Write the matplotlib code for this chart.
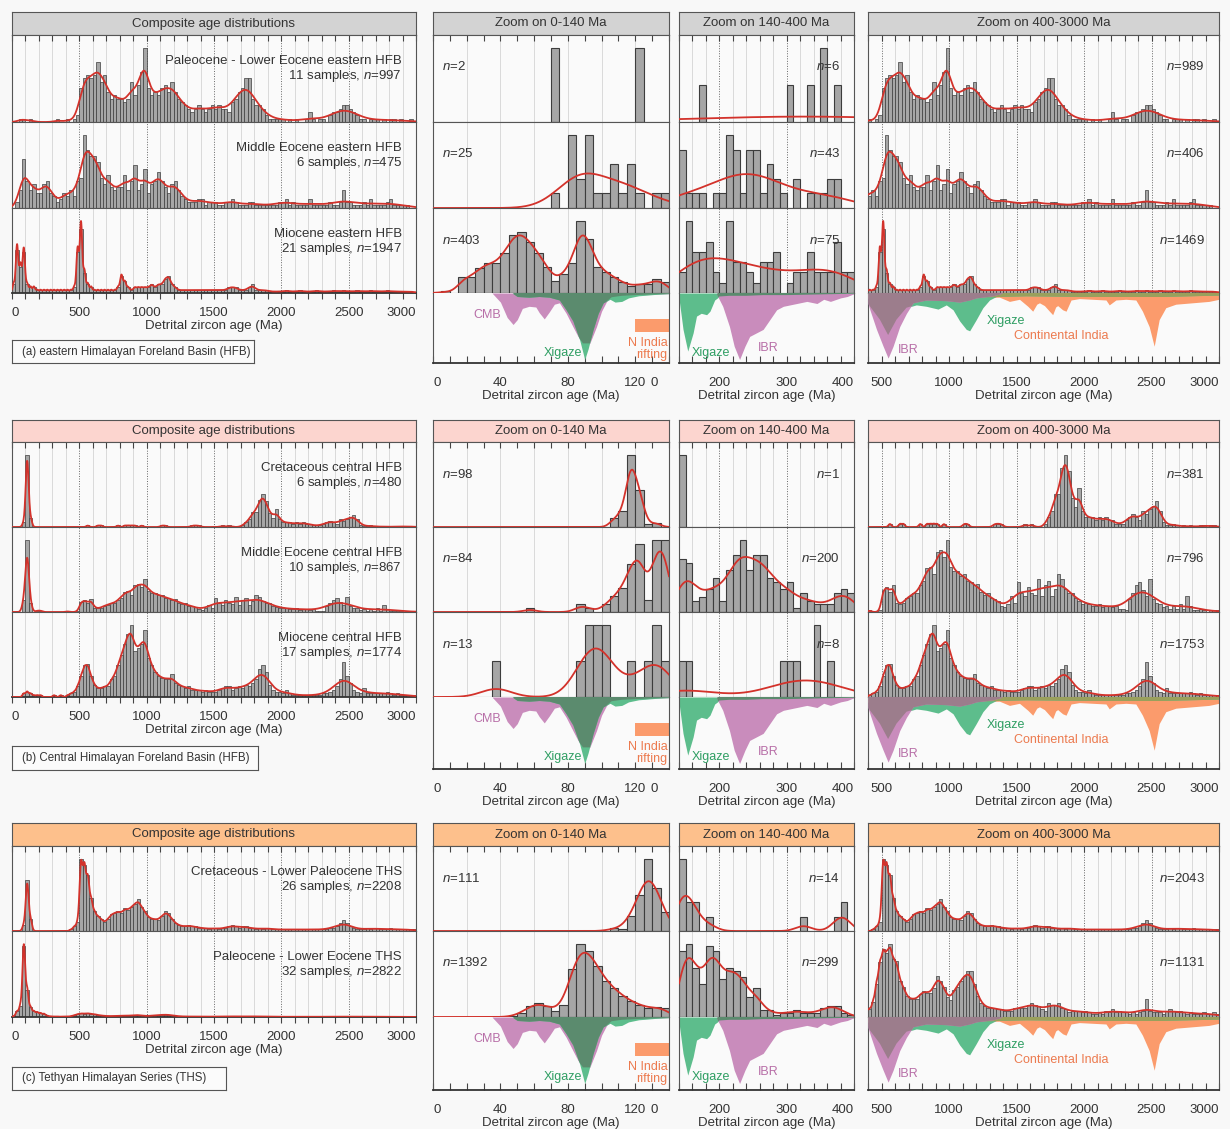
import numpy as np
import matplotlib
matplotlib.use('Agg')
import matplotlib.pyplot as plt
from matplotlib.patches import Rectangle

plt.rcParams['font.family'] = ['Liberation Sans', 'DejaVu Sans']
plt.rcParams['mathtext.fontset'] = 'custom'
plt.rcParams['mathtext.rm'] = 'Liberation Sans'
plt.rcParams['mathtext.it'] = 'Liberation Sans:italic'

# ---- composite age spectra, 25 Ma bins from 0 to 3000 Ma ----
old_edges = np.arange(0, 3001, 25)

pal_east = [
    0, 0, 1, 1, 0, 1, 0, 0, 0, 0, 0, 0, 0, 1, 0, 0, 1, 0, 1, 2,
    10, 13, 14, 13, 14, 18, 12, 14, 9, 7, 8, 7, 7, 6, 7, 12, 8, 11, 15, 22,
    10, 8, 9, 8, 10, 11, 9, 12, 9, 7, 6, 5, 4, 3, 4, 5, 4, 3, 4, 5,
    4, 5, 4, 4, 3, 6, 7, 9, 10, 13, 13, 7, 5, 5, 4, 2, 1, 1, 1, 1,
    1, 0, 1, 0, 1, 0, 0, 1, 3, 1, 0, 1, 1, 0, 2, 3, 3, 4, 5, 5,
    4, 3, 2, 1, 1, 0, 1, 1, 1, 0, 1, 0, 1, 1, 0, 1, 0, 0, 1, 0,
]
meo_east = [
    0, 2, 6, 16, 9, 6, 8, 5, 5, 8, 9, 5, 4, 2, 3, 5, 4, 6, 4, 9,
    10, 24, 19, 17, 17, 15, 10, 8, 11, 7, 6, 7, 7, 11, 6, 9, 14, 6, 8, 13,
    5, 8, 9, 12, 9, 7, 5, 8, 9, 6, 4, 3, 2, 2, 2, 3, 3, 1, 2, 2,
    2, 1, 1, 2, 2, 3, 2, 1, 1, 1, 2, 2, 1, 1, 1, 1, 1, 1, 1, 2,
    2, 3, 1, 2, 1, 1, 1, 1, 3, 1, 1, 1, 1, 1, 2, 1, 1, 2, 6, 2,
    2, 1, 1, 1, 2, 1, 3, 1, 1, 1, 1, 2, 3, 1, 1, 1, 1, 1, 0, 0,
]
mio_east = [
    3, 15, 9, 14, 3, 2, 2, 1, 1, 1, 1, 1, 1, 1, 1, 1, 1, 1, 2, 14,
    22, 7, 3, 2, 1, 1, 1, 1, 1, 1, 1, 2, 6, 4, 2, 1, 2, 2, 2, 2,
    2, 3, 2, 3, 3, 5, 6, 3, 2, 1, 1, 1, 1, 1, 1, 1, 1, 1, 1, 1,
    1, 1, 1, 1, 2, 2, 2, 1, 1, 1, 2, 3, 1, 1, 1, 1, .5, .5, .5, .5,
    .5, 1, .5, .5, .5, 1, .5, .5, .5, .5, 1, .5, .5, .5, .5, 1, .5, .5, 1, .5,
    .5, .5, 1, .5, .5, .5, 1, .5, .5, .5, .5, 1, .5, .5, .5, .5, .5, .5, .5, .5,
]
cre_cent = [
    0, 0, 0, 3, 48, 6, 0, 0, 0, 0, 0, 0, 0, 0, 0, 0, 0, 0, 0, 0,
    0, 0, 1, 0, 0, 1, 1, 0, 0, 0, 0, 1, 0, 1, 1, 1, 1, 0, 1, 0,
    0, 0, 0, 0, 1, 1, 0, 0, 0, 0, 0, 0, 0, 1, 1, 1, 0, 0, 0, 0,
    0, 0, 1, 0, 1, 0, 0, 0, 1, 3, 5, 10, 10, 18, 22, 17, 9, 6, 12, 5,
    3, 3, 3, 2, 3, 2, 3, 2, 2, 1, 1, 1, 2, 3, 4, 3, 2, 5, 4, 5.5,
    6.5, 8, 5, 1.5, .5, .5, 1, .5, 0, .5, 0, .5, 0, 0, .5, .5, 0, .5, .5, 0,
]
meo_cent = [
    0, 0, 0, 8, 50, 6, 0, 1, 1, 0, 0, 0, 0, 0, 0, 0, .5, 0, 0, .5,
    7, 8, 6.5, 8.7, 3, 2.5, 3, 4.5, 5, 6, 6, 8.5, 10, 14, 14.5, 12, 19, 19.7, 17.5, 23,
    14.5, 13, 13, 11.5, 12, 10, 9.5, 8.5, 9, 6.5, 5.5, 6, 4.5, 4, 3.5, 2, 1.5, 2.5, 5, 3,
    9.5, 6, 5, 8, 6, 5.5, 10.5, 5, 8.5, 10, 5, 7.5, 12, 10.5, 7.5, 6, 6, 4.5, 3.5, 2.5,
    3, 2.5, 2, 2, 2.5, 1.5, 2, 2, 1.5, 2, 1, 1, .7, 4, 6, 8.5, 9.5, 7, 5, 10.5,
    4, 3, 2.5, 1.5, 2, 1, 2, 1, 2.5, 1, 5, 2, .7, .5, 1, .5, 0, .5, .5, .5,
]
mio_cent = [
    0, 0, 0, 1, 1.5, 1, .5, .5, .5, 0, 0, 0, .5, 0, .5, 0, .5, 1, 1.5, 3,
    6, 9, 9.5, 6, 3.5, 2.5, 2.5, 3, 3, 5, 6, 9, 12, 15, 18, 20.5, 13, 14, 15, 19,
    11, 9, 7, 6, 5.5, 5, 5, 6.5, 4, 3.5, 3, 2.5, 3, 2, 2, 2, 1.5, 2, 1.5, 1.5,
    1.5, 2, 2.5, 3, 3, 2, 2.5, 3, 2.5, 3.5, 3, 4, 5, 8, 9, 7, 3.5, 2, 1.5, 1.5,
    1, 2, 1, .5, .5, .5, .5, .5, .5, .5, .5, .5, 1, 1, 1.5, 2, 3, 5, 10, 6,
    4, 2, 1.5, 1, 2.5, 1, 1, 1, 1, 1, 1, 1.5, 1, .5, 1, .5, .5, .5, .5, .5,
]
cre_ths = [
    0, 0, 0, 2, 17, 4, 0, 0, 0, 0, 0, 0, 0, 0, 0, 0, 0, .5, 1.5, 3,
    24, 22, 18.5, 11, 6.5, 5, 4, 3, 4, 5.5, 6, 6.5, 6, 7.5, 7, 8, 9, 10.5, 8, 6.5,
    4.5, 4, 4, 3.5, 5, 6.5, 6, 4, 2.5, 2, 1.5, 1.5, 2, 1.5, 1.5, 1, 1, 1, .5, 1,
    1, .5, 1, 1, 1.5, 2, 1.5, 1, 1.5, 1.5, 1, 1, .5, 1, .5, 1, 1, .5, .5, .5,
    .5, .5, .5, .5, .5, .5, .5, .5, .5, .5, .5, .5, .5, .5, 1, 1, 1.5, 2.5, 3.5, 2.5,
    1.5, 1, .5, .5, .5, 1, .5, 1, 1, .5, .5, .5, 1, .5, .5, .5, .5, .5, .5, .5,
]
pal_ths = [
    5, 35, 70, 450, 170, 60, 36, 30, 24, 20, 8, 4, 3, 3, 2, 3, 2.5, 5, 11, 18,
    22.5, 21, 24, 19, 18.5, 12, 10, 7, 6, 6, 6, 7.5, 8.5, 8, 8, 9.5, 13.5, 12, 10, 6.5,
    5.5, 9, 10, 12, 13.5, 15, 15, 11, 7, 4.5, 3.5, 3, 3, 3, 2.5, 2.5, 2, 2, 2, 3,
    3, 3, 3, 4, 4.5, 4, 3.5, 2.5, 2, 4.5, 4, 4, 4.5, 3, 2.5, 1.5, 2, 2, 2, 1.5,
    2, 1.5, 1, 1, 1.5, 1, 2, 1.5, 2.5, 1.5, 2, 1.5, 1.5, 1, 1.5, 1, 1.5, 2, 6, 2,
    1.5, 1.5, 1.5, 1, 2, 2.5, 2, 1.5, 2, 1.5, 1, 1.5, 1, 1, 1, 1.5, 1, 1, 1.5, 1,
]

# ---- 0-140 Ma, 5 Ma bins (counts) ----
young_edges = np.arange(0, 141, 5)
young_a1 = [0, 0, 0, 0, 0, 0, 0, 0, 0, 0, 0, 0, 0, 0, 1, 0, 0, 0, 0, 0, 0, 0, 0, 0, 1, 0, 0, 0]
young_a2 = [0, 0, 0, 0, 0, 0, 0, 0, 0, 0, 0, 0, 0, 0, 1, 0, 5, 2, 5, 1, 1, 3, 1, 3, 1, 0, 1, 1]
young_a3 = [0, 1, 0, 9, 9, 14, 17, 17, 23, 33, 35, 29, 23, 15, 7, 11, 17, 41, 31, 15,
            12, 9, 6, 4, 5, 5, 8, 6]
young_b1 = [0, 0, 0, 0, 0, 0, 0, 0, 0, 0, 0, 0, 0, 0, 0, 0, 0, 0, 0, 0, 0, 6, 11, 50, 26, 2, 3, 0]
young_b2 = [0, 0, 0, 0, 0, 0, 0, 0, 0, 0, 0, 1, 0, 0, 0, 0, 0, 2, 1, 0, 2, 4, 6, 12, 17, 3, 18, 18]
young_b3 = [0, 0, 0, 0, 0, 0, 0, 1, 0, 0, 0, 0, 0, 0, 0, 0, 0, 1, 2, 2, 2, 0, 0, 1, 0, 1, 2, 1]
young_c1 = [0, 0, 0, 0, 0, 0, 0, 0, 0, 0, 0, 0, 0, 0, 0, 0, 0, 0, 0, 0, 0, 2, 1, 9, 21, 42, 25, 11]
young_c2 = [0, 0, 0, 0, 0, 0, 0, 0, 0, 3, 13, 36, 45, 34, 20, 39, 151, 230, 209, 162,
            114, 90, 67, 50, 39, 28, 31, 28]

# ---- 140-400 Ma, 10 Ma bins (counts) ----
mid_edges = np.arange(140, 401, 10)
mid_a1 = [0, 0, 0, 1, 0, 0, 0, 0, 0, 0, 0, 0, 0, 0, 0, 0, 1, 0, 0, 1, 0, 2, 0, 1, 0, 0]
mid_a2 = [4, 1, 1, 1, 0, 1, 1, 5, 4, 1, 4, 4, 1, 3, 2, 1, 0, 2, 0, 1, 1, 1, 2, 2, 0, 0]
mid_a3 = [2, 7, 4, 4, 5, 2, 1, 7, 3, 3, 2, 1, 3, 3, 4, 0, 1, 2, 2, 4, 2, 2, 2, 5, 2, 2]
mid_b1 = [1, 0, 0, 0, 0, 0, 0, 0, 0, 0, 0, 0, 0, 0, 0, 0, 0, 0, 0, 0, 0, 0, 0, 0, 0, 0]
mid_b2 = [14, 13, 3, 4, 6, 9, 3, 11, 15, 19, 11, 15, 15, 9, 8, 6, 8, 1, 5, 3, 2, 2, 2, 5, 6, 5]
mid_b3 = [1, 1, 0, 0, 0, 0, 0, 0, 0, 0, 0, 0, 0, 0, 0, 1, 1, 1, 0, 0, 2, 0, 1, 0, 0, 0]
mid_c1 = [5, 2, 2, 0, 1, 0, 0, 0, 0, 0, 0, 0, 0, 0, 0, 0, 0, 0, 1, 0, 0, 0, 0, 1, 2, 0]
mid_c2 = [30, 33, 22, 15, 32, 30, 17, 22, 21, 18, 9, 13, 3, 3, 1, 2, 2, 3, 2, 2, 2, 4, 5, 5, 2, 1]

# ---- reference source populations (depth below baseline) ----
cmb_age = [35, 40, 44, 47.5, 50, 53, 57, 61, 63, 66, 69, 72, 75, 79, 83, 86, 89, 93, 97,
           100, 103, 106, 112, 120, 130, 140]
cmb_depth = [0, .13, .35, .45, .38, .22, .19, .2, .28, .37, .27, .16, .14, .29, .48, .62, .72,
             .72, .48, .26, .12, .06, .04, .03, .02, .01]
xig_young_age = [47, 50, 57, 63, 69, 75, 79, 83, 87, 90, 92, 95, 98, 101, 105, 108, 112, 116,
                 122, 132, 140]
xig_young_depth = [0, .05, .06, .05, .06, .1, .24, .4, .67, .95, .8, .52, .29, .14, .09, .13,
                   .12, .07, .04, .02, .01]
xig_mid_age = [140, 146, 153, 161, 166, 173, 181, 186, 193, 200, 215, 240, 265, 300, 350, 400]
xig_mid_depth = [.08, .52, .83, .57, .33, .29, .31, .26, .1, .05, .04, .04, .03, .03, .02, .01]
ibr_mid_age = [196, 205, 215, 222, 230, 238, 245, 255, 265, 275, 285, 295, 305, 315, 330,
               345, 355, 365, 380, 390, 400]
ibr_mid_depth = [.02, .19, .48, .76, .95, .76, .62, .57, .52, .38, .24, .19, .17, .15, .12,
                 .15, .09, .12, .07, .05, .01]
ibr_old_age = [400, 414, 463, 512, 549, 586, 635, 685, 734, 832, 980, 1079, 1153, 1202,
               1325, 1400]
ibr_old_depth = [.15, .24, .52, .76, .93, .76, .48, .29, .14, .1, .11, .13, .1, .07, .04, 0]
xig_old_age = [400, 414, 488, 549, 611, 685, 758, 832, 919, 980, 1030, 1079, 1128, 1153,
               1202, 1251, 1300, 1350, 1571, 2064, 2557, 3000]
xig_old_depth = [.12, .19, .38, .6, .38, .21, .17, .19, .23, .17, .24, .4, .52, .54, .38,
                 .21, .1, .05, .04, .05, .05, .03]
ci_old_age = [400, 586, 1000, 1374, 1448, 1522, 1584, 1620, 1650, 1670, 1707, 1744, 1768,
              1790, 1805, 1842, 1867, 1904, 1966, 2064, 2163, 2187, 2236, 2310, 2384, 2433,
              2483, 2520, 2557, 2606, 2680, 2803, 2926, 3000]
ci_old_depth = [.08, .1, .07, .06, .12, .09, .19, .26, .16, .14, .18, .26, .31, .2, .18, .24,
                .26, .1, .08, .09, .1, .17, .1, .09, .1, .26, .48, .76, .38, .21, .16, .14,
                .12, .09]

sections = [
    dict(tag='(a) eastern Himalayan Foreland Basin (HFB)', head_color='#d3d3d3',
         head=(12, 35), rows=(35, 122, 208, 293), ref_bottom=363, tag_box=(12, 340, 254, 363),
         series=[
             dict(old=pal_east, old_bw=(30, .03), young=young_a1, young_bw=None,
                  mid=mid_a1, mid_bw=150, name='Paleocene - Lower Eocene eastern HFB',
                  samples='11 samples', n=(997, 2, 6, 989)),
             dict(old=meo_east, old_bw=(30, .03), young=young_a2, young_bw=12,
                  mid=mid_a2, mid_bw=40, name='Middle Eocene eastern HFB',
                  samples='6 samples', n=(475, 25, 43, 406)),
             dict(old=mio_east, old_bw=(9, .012), young=young_a3, young_bw=4,
                  mid=mid_a3, mid_bw=35, name='Miocene eastern HFB',
                  samples='21 samples', n=(1947, 403, 75, 1469)),
         ]),
    dict(tag='(b) Central Himalayan Foreland Basin (HFB)', head_color='#fcd5cf',
         head=(420, 442), rows=(442, 527, 612, 697), ref_bottom=769, tag_box=(12, 746, 258, 770),
         series=[
             dict(old=cre_cent, old_bw=(11, .012), young=young_b1, young_bw=3,
                  mid=mid_b1, mid_bw=None, name='Cretaceous central HFB',
                  samples='6 samples', n=(480, 98, 1, 381)),
             dict(old=meo_cent, old_bw=(14, .03), young=young_b2, young_bw=4,
                  mid=mid_b2, mid_bw=14, name='Middle Eocene central HFB',
                  samples='10 samples', n=(867, 84, 200, 796)),
             dict(old=mio_cent, old_bw=(10, .025), young=young_b3, young_bw=9,
                  mid=mid_b3, mid_bw=45, name='Miocene central HFB',
                  samples='17 samples', n=(1774, 13, 8, 1753)),
         ]),
    dict(tag='(c) Tethyan Himalayan Series (THS)', head_color='#fdc08c',
         head=(823, 846), rows=(846, 931, 1017), ref_bottom=1090, tag_box=(12, 1067, 226, 1090),
         series=[
             dict(old=cre_ths, old_bw=(11, .02), young=young_c1, young_bw=5,
                  mid=mid_c1, mid_bw=12, name='Cretaceous - Lower Paleocene THS',
                  samples='26 samples', n=(2208, 111, 14, 2043)),
             dict(old=pal_ths, old_bw=(10, .025), young=young_c2, young_bw=4.5,
                  mid=mid_c2, mid_bw=10, name='Paleocene - Lower Eocene THS',
                  samples='32 samples', n=(2822, 1392, 299, 1131)),
         ]),
]

COLS = [
    dict(key='comp', x=(12, 416), lim=(0, 3000), title='Composite age distributions',
         top=np.arange(0, 3001, 100), major=list(range(0, 3001, 500)),
         labels=[str(v) for v in range(0, 3001, 500)], minor=np.arange(0, 3001, 100),
         light=[v for v in range(100, 3000, 100) if v % 500], dark=range(500, 3000, 500)),
    dict(key='young', x=(433, 669), lim=(0, 140), title='Zoom on 0-140 Ma',
         top=np.arange(0, 141, 10), major=[0, 40, 80, 120, 131.5],
         labels=['0', '40', '80', '120', '0'], minor=np.arange(0, 141, 10),
         light=range(20, 140, 20), dark=[]),
    dict(key='mid', x=(679, 854), lim=(140, 400), title='Zoom on 140-400 Ma',
         top=np.arange(140, 401, 20), major=[200, 300, 400], labels=['200', '300', '400'],
         minor=np.arange(140, 401, 20),
         light=[v for v in range(160, 400, 20) if v % 100], dark=[200, 300]),
    dict(key='old', x=(868, 1219), lim=(400, 3000), title='Zoom on 400-3000 Ma',
         top=np.arange(400, 3001, 100), major=list(range(500, 3001, 500)),
         labels=[str(v) for v in range(500, 3001, 500)], minor=np.arange(400, 3001, 100),
         light=[v for v in range(600, 3000, 100) if v % 500], dark=range(500, 3000, 500)),
]

TXT = '#333333'
EDGE = '#555555'
BG = '#f8f8f8'
PANEL = '#fafafa'
RED = '#d3322b'
MAG, MAG_T = '#c98cbc', '#b86fa8'
GRN, GRN_T = '#5dbd8c', '#2f9e63'
DKG = '#5b8b6e'
ORG, ORG_T = '#fb9b6c', '#ec7a4e'
OLIVE = '#9aa05c'
MAUVE = '#9c7d8c'

W, H = 1230, 1129
fig = plt.figure(figsize=(W / 100, H / 100), dpi=100)
fig.patch.set_facecolor(BG)


def box(x0, y0, x1, y1):
    ax = fig.add_axes([x0 / W, 1 - y1 / H, (x1 - x0) / W, (y1 - y0) / H])
    ax.set_facecolor(PANEL)
    ax.set_xticks([])
    ax.set_yticks([])
    for sp in ax.spines.values():
        sp.set_color(EDGE)
        sp.set_linewidth(0.8)
    return ax


def ftext(x, y, s, **kw):
    fig.text(x / W, 1 - y / H, s, **kw)


def kde(edges, heights, grid, bw_min, bw_frac=0.0):
    edges = np.asarray(edges, float)
    h = np.asarray(heights, float)
    c = 0.5 * (edges[:-1] + edges[1:])
    w = np.diff(edges)
    s = np.maximum(bw_min, bw_frac * c)
    z = (grid[:, None] - c[None, :]) / s[None, :]
    return (np.exp(-0.5 * z ** 2) / (np.sqrt(2 * np.pi) * s) * h * w).sum(axis=1)


def bottom_axis(ax, col):
    ax.set_xticks(col['major'], col['labels'])
    ax.set_xticks(col['minor'], minor=True)
    inward = col['key'] != 'comp'
    ax.tick_params(axis='x', which='both', bottom=True, direction='in' if inward else 'out',
                   length=5 if inward else 4, width=0.8, color='#444444',
                   pad=10 if inward else 6, labelsize=9.5, labelcolor=TXT)
    labels = ax.get_xticklabels()
    if col['key'] in ('comp', 'young'):
        labels[0].set_horizontalalignment('left')
    if col['key'] in ('comp', 'mid', 'old'):
        labels[-1].set_horizontalalignment('right')
    if col['key'] == 'young':
        ax.xaxis.get_major_ticks()[-1].tick1line.set_visible(False)
    ax.set_xlabel('Detrital zircon age (Ma)', fontsize=9.5, color=TXT, labelpad=1)
    ax.spines['bottom'].set_linewidth(1.3)
    ax.spines['bottom'].set_color('#333333')


def ref_young(ax):
    cm = ax.fill_between(cmb_age, 0, -np.asarray(cmb_depth), color=MAG, lw=0, zorder=1)
    xd = -np.asarray(xig_young_depth)
    ax.fill_between(xig_young_age, 0, xd, color=GRN, lw=0, zorder=2)
    ov = ax.fill_between(xig_young_age, 0, xd, color=DKG, lw=0, zorder=3)
    ov.set_clip_path(cm.get_paths()[0], ax.transData)
    ax.add_patch(Rectangle((120, -0.56), 20, 0.19, color=ORG, lw=0, zorder=2))
    ax.text(32, -0.31, 'CMB', color=MAG_T, fontsize=9, ha='center', va='center')
    ax.text(77, -0.86, 'Xigaze', color=GRN_T, fontsize=9, ha='center', va='center')
    ax.text(139, -0.8, 'N India\nrifting', color=ORG_T, fontsize=9, ha='right',
            va='center', linespacing=1.05)


def ref_mid(ax):
    xg = ax.fill_between(xig_mid_age, 0, -np.asarray(xig_mid_depth), color=GRN, lw=0, zorder=1)
    ib_d = -np.asarray(ibr_mid_depth)
    ax.fill_between(ibr_mid_age, 0, ib_d, color=MAG, lw=0, zorder=2)
    ov = ax.fill_between(ibr_mid_age, 0, ib_d, color=DKG, lw=0, zorder=3)
    ov.set_clip_path(xg.get_paths()[0], ax.transData)
    ax.text(188, -0.86, 'Xigaze', color=GRN_T, fontsize=9, ha='center', va='center')
    ax.text(272, -0.79, 'IBR', color=MAG_T, fontsize=9, ha='center', va='center')


def ref_old(ax):
    ci = ax.fill_between(ci_old_age, 0, -np.asarray(ci_old_depth), color=ORG, lw=0, zorder=1)
    xd = -np.asarray(xig_old_depth)
    xg = ax.fill_between(xig_old_age, 0, xd, color=GRN, lw=0, zorder=2)
    ov1 = ax.fill_between(xig_old_age, 0, xd, color=OLIVE, lw=0, zorder=3)
    ov1.set_clip_path(ci.get_paths()[0], ax.transData)
    ibd = -np.asarray(ibr_old_depth)
    ax.fill_between(ibr_old_age, 0, ibd, color=MAG, lw=0, zorder=4)
    ov2 = ax.fill_between(ibr_old_age, 0, ibd, color=MAUVE, lw=0, zorder=5)
    ov2.set_clip_path(xg.get_paths()[0], ax.transData)
    ax.text(697, -0.81, 'IBR', color=MAG_T, fontsize=9, ha='center', va='center')
    ax.text(1424, -0.4, 'Xigaze', color=GRN_T, fontsize=9, ha='center', va='center')
    ax.text(1831, -0.62, 'Continental India', color=ORG_T, fontsize=9, ha='center',
            va='center')


for sec in sections:
    ys = sec['rows']
    nrow = len(sec['series'])
    for col in COLS:
        x0, x1 = col['x']
        lo, hi = col['lim']
        key = col['key']

        hd = box(x0, sec['head'][0], x1, sec['head'][1])
        hd.set_facecolor(sec['head_color'])
        hd.text(0.5, 0.5, col['title'], transform=hd.transAxes, ha='center', va='center',
                fontsize=9.5, color=TXT)

        for i, row in enumerate(sec['series']):
            ax = box(x0, ys[i], x1, ys[i + 1])
            if key in ('comp', 'old'):
                edges, h = old_edges, np.asarray(row['old'], float)
                bw = row['old_bw']
            elif key == 'young':
                edges, h = young_edges, np.asarray(row['young'], float)
                bw = None if row['young_bw'] is None else (row['young_bw'], 0.0)
            else:
                edges, h = mid_edges, np.asarray(row['mid'], float)
                bw = None if row['mid_bw'] is None else (row['mid_bw'], 0.0)

            for v in col['light']:
                ax.axvline(v, color='#d4d4d4', lw=0.6, zorder=0)
            for v in col['dark']:
                ax.axvline(v, color='#666666', lw=0.7, ls=(0, (1, 1.6)), zorder=0)

            left = edges[:-1]
            width = np.diff(edges)
            keep = h > 0
            thin = key in ('comp', 'old')
            ax.bar(left[keep], h[keep], width=width[keep], align='edge',
                   color='#a6a6a6', edgecolor='#3c3c3c', lw=0.5 if thin else 0.8, zorder=2)

            vis = (left >= lo) & (left + width <= hi)
            top = h[vis].max()
            if bw is not None:
                grid = np.linspace(lo, hi, 1500)
                curve = kde(edges, h, grid, *bw)
                ax.plot(grid, curve, color=RED, lw=1.3, zorder=3)
                top = max(top, curve.max())
            ax.set_xlim(lo, hi)
            ax.set_ylim(0, top * 1.18)

            if i == 0:
                ax.set_xticks(col['top'])
                ax.tick_params(axis='x', top=True, bottom=False, direction='in', length=4.5,
                               width=0.8, color='#444444', labelbottom=False)

            if key == 'comp':
                ftext(x1 - 14, ys[i] + 26, row['name'], ha='right', va='center',
                      fontsize=9.5, color=TXT)
                ftext(x1 - 14, ys[i] + 41, row['samples'] + r', $n$=%d' % row['n'][0],
                      ha='right', va='center', fontsize=9.5, color=TXT)
                if i == nrow - 1:
                    bottom_axis(ax, col)
            else:
                nval = row['n'][{'young': 1, 'mid': 2, 'old': 3}[key]]
                if key == 'young':
                    ftext(x0 + 9, ys[i] + 32, r'$n$=%d' % nval, ha='left', va='center',
                          fontsize=9.5, color=TXT)
                else:
                    ftext(x1 - 14, ys[i] + 32, r'$n$=%d' % nval, ha='right', va='center',
                          fontsize=9.5, color=TXT)

        if key != 'comp':
            ref_h = sec['ref_bottom'] - ys[-1]
            rx = box(x0, ys[-1], x1, sec['ref_bottom'])
            rx.spines['top'].set_visible(False)
            rx.set_xlim(lo, hi)
            rx.set_ylim(-ref_h / 70.0, 0)
            {'young': ref_young, 'mid': ref_mid, 'old': ref_old}[key](rx)
            bottom_axis(rx, col)

    tx0, ty0, tx1, ty1 = sec['tag_box']
    tb = box(tx0, ty0, tx1, ty1)
    tb.set_facecolor('#fbfbfb')
    tb.text(10 / (tx1 - tx0), 0.5, sec['tag'], transform=tb.transAxes, ha='left',
            va='center', fontsize=8.3, color=TXT)

fig.savefig('out.png', dpi=100, facecolor=fig.get_facecolor())
